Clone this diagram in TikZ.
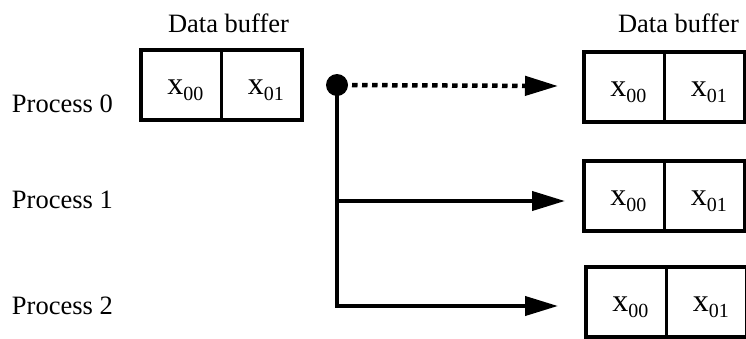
\documentclass[tikz,border=0pt]{standalone}
\usepackage{fontspec}
\setmainfont{Liberation Serif}
\usetikzlibrary{arrows.meta}

% one buffer element: x with a two-digit index
\newcommand{\elem}[1]{\hspace{8pt}\fontsize{32}{32}\selectfont x\raisebox{-6pt}{\fontsize{20}{20}\selectfont #1}}

\begin{document}
\begin{tikzpicture}[x=1pt,y=-1pt,
  lbl/.style={inner sep=0pt, outer sep=0pt, anchor=base west, font=\fontsize{26.5}{30}\selectfont},
  cell/.style={draw, line width=3.8pt, minimum width=80.5pt, minimum height=70pt,
               inner sep=0pt, outer sep=0pt, text height=18pt, text depth=0pt},
  wire/.style={line width=4pt},
  tip/.style={-{Triangle[length=33pt,width=19pt]}},
  dotted wire/.style={line width=4.5pt, dash pattern=on 5.5pt off 4.5pt}
]
\useasboundingbox (0,0) rectangle (746,338);

% labels
\node[lbl] (dbl) at (168,32) {Data buffer};
\node[lbl] (dbr) at (618,32) {Data buffer};
\node[lbl] (p0) at (12,112) {Process 0};
\node[lbl] (p1) at (12,208) {Process 1};
\node[lbl] (p2) at (12,314) {Process 2};

% source buffer (process 0)
\node[cell, anchor=north west] (l0a) at (141,50) {\elem{00}};
\node[cell, anchor=north west] (l0b) at (l0a.north east) {\elem{01}};

% destination buffers
\node[cell, anchor=north west] (r0a) at (584,52) {\elem{00}};
\node[cell, anchor=north west] (r0b) at (r0a.north east) {\elem{01}};
\node[cell, anchor=north west] (r1a) at (584,161) {\elem{00}};
\node[cell, anchor=north west] (r1b) at (r1a.north east) {\elem{01}};
\node[cell, anchor=north west] (r2a) at (586,267) {\elem{00}};
\node[cell, anchor=north west] (r2b) at (r2a.north east) {\elem{01}};

% connector ends
\coordinate (root) at (337,85);
\coordinate (j1) at (337,201);
\coordinate (j2) at (337,306);
\coordinate (t0) at (558,86);
\coordinate (t1) at (565,201);
\coordinate (t2) at (558,306);

% connectors
\draw[dotted wire, tip, shorten <=15pt] (root) -- (t0);
\draw[wire, tip] (j1) -- (t1);
\draw[wire, tip] (root) -- (j2) -- (t2);

% broadcast root
\node[circle, fill, minimum size=22pt, inner sep=0pt] (dot) at (root) {};
\end{tikzpicture}
\end{document}
